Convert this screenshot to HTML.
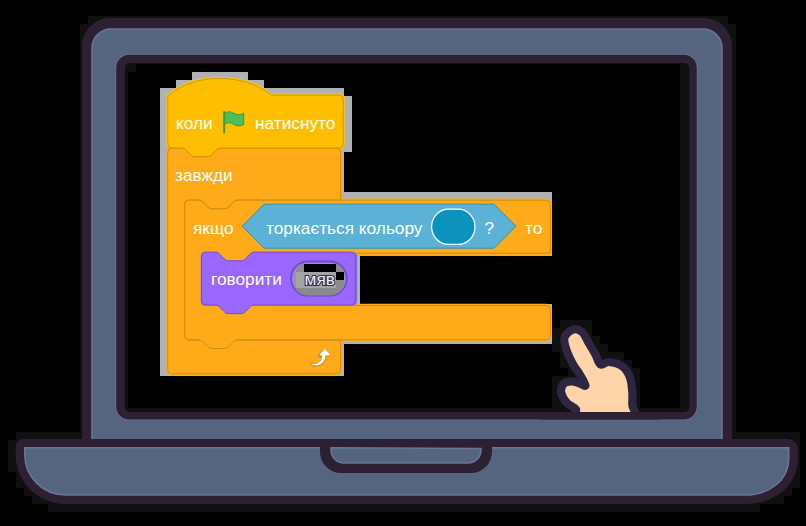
<!DOCTYPE html>
<html><head><meta charset="utf-8"><style>
html,body{margin:0;padding:0;background:#000;width:806px;height:526px;overflow:hidden}
svg{display:block}
text{font-family:"Liberation Sans",sans-serif;font-size:17.25px;fill:#fff}
</style></head><body>
<svg width="806" height="526" viewBox="0 0 806 526">
<rect width="806" height="526" fill="#000"/>
<g fill="#101011"><rect x="88" y="16" width="640" height="8"/><rect x="80" y="24" width="656" height="8"/><rect x="80" y="32" width="656" height="8"/><rect x="80" y="40" width="656" height="8"/><rect x="80" y="48" width="656" height="8"/><rect x="80" y="56" width="656" height="8"/><rect x="80" y="64" width="56" height="8"/><rect x="680" y="64" width="56" height="8"/><rect x="80" y="72" width="48" height="8"/><rect x="680" y="72" width="56" height="8"/><rect x="80" y="80" width="48" height="8"/><rect x="680" y="80" width="56" height="8"/><rect x="80" y="88" width="48" height="8"/><rect x="680" y="88" width="56" height="8"/><rect x="80" y="96" width="48" height="8"/><rect x="680" y="96" width="56" height="8"/><rect x="80" y="104" width="48" height="8"/><rect x="680" y="104" width="56" height="8"/><rect x="80" y="112" width="48" height="8"/><rect x="680" y="112" width="56" height="8"/><rect x="80" y="120" width="48" height="8"/><rect x="680" y="120" width="56" height="8"/><rect x="80" y="128" width="48" height="8"/><rect x="680" y="128" width="56" height="8"/><rect x="80" y="136" width="48" height="8"/><rect x="680" y="136" width="56" height="8"/><rect x="80" y="144" width="48" height="8"/><rect x="680" y="144" width="56" height="8"/><rect x="80" y="152" width="48" height="8"/><rect x="680" y="152" width="56" height="8"/><rect x="80" y="160" width="48" height="8"/><rect x="680" y="160" width="56" height="8"/><rect x="80" y="168" width="48" height="8"/><rect x="680" y="168" width="56" height="8"/><rect x="80" y="176" width="48" height="8"/><rect x="680" y="176" width="56" height="8"/><rect x="80" y="184" width="48" height="8"/><rect x="680" y="184" width="56" height="8"/><rect x="80" y="192" width="48" height="8"/><rect x="680" y="192" width="56" height="8"/><rect x="80" y="200" width="48" height="8"/><rect x="680" y="200" width="56" height="8"/><rect x="80" y="208" width="48" height="8"/><rect x="680" y="208" width="56" height="8"/><rect x="80" y="216" width="48" height="8"/><rect x="680" y="216" width="56" height="8"/><rect x="80" y="224" width="48" height="8"/><rect x="680" y="224" width="56" height="8"/><rect x="80" y="232" width="48" height="8"/><rect x="680" y="232" width="56" height="8"/><rect x="80" y="240" width="48" height="8"/><rect x="680" y="240" width="56" height="8"/><rect x="80" y="248" width="48" height="8"/><rect x="680" y="248" width="56" height="8"/><rect x="80" y="256" width="48" height="8"/><rect x="680" y="256" width="56" height="8"/><rect x="80" y="264" width="48" height="8"/><rect x="680" y="264" width="56" height="8"/><rect x="80" y="272" width="48" height="8"/><rect x="680" y="272" width="56" height="8"/><rect x="80" y="280" width="48" height="8"/><rect x="680" y="280" width="56" height="8"/><rect x="80" y="288" width="48" height="8"/><rect x="680" y="288" width="56" height="8"/><rect x="80" y="296" width="48" height="8"/><rect x="680" y="296" width="56" height="8"/><rect x="80" y="304" width="48" height="8"/><rect x="680" y="304" width="56" height="8"/><rect x="80" y="312" width="48" height="8"/><rect x="680" y="312" width="56" height="8"/><rect x="80" y="320" width="48" height="8"/><rect x="560" y="320" width="32" height="8"/><rect x="680" y="320" width="56" height="8"/><rect x="80" y="328" width="48" height="8"/><rect x="552" y="328" width="40" height="8"/><rect x="680" y="328" width="56" height="8"/><rect x="80" y="336" width="48" height="8"/><rect x="552" y="336" width="48" height="8"/><rect x="680" y="336" width="56" height="8"/><rect x="80" y="344" width="48" height="8"/><rect x="552" y="344" width="56" height="8"/><rect x="680" y="344" width="56" height="8"/><rect x="80" y="352" width="48" height="8"/><rect x="560" y="352" width="64" height="8"/><rect x="680" y="352" width="56" height="8"/><rect x="80" y="360" width="48" height="8"/><rect x="560" y="360" width="72" height="8"/><rect x="680" y="360" width="56" height="8"/><rect x="80" y="368" width="48" height="8"/><rect x="568" y="368" width="72" height="8"/><rect x="680" y="368" width="56" height="8"/><rect x="80" y="376" width="48" height="8"/><rect x="552" y="376" width="88" height="8"/><rect x="680" y="376" width="56" height="8"/><rect x="80" y="384" width="48" height="8"/><rect x="552" y="384" width="88" height="8"/><rect x="680" y="384" width="56" height="8"/><rect x="80" y="392" width="48" height="8"/><rect x="552" y="392" width="88" height="8"/><rect x="680" y="392" width="56" height="8"/><rect x="80" y="400" width="48" height="8"/><rect x="552" y="400" width="88" height="8"/><rect x="680" y="400" width="56" height="8"/><rect x="80" y="408" width="656" height="8"/><rect x="80" y="416" width="656" height="8"/><rect x="80" y="424" width="656" height="8"/><rect x="16" y="432" width="784" height="8"/><rect x="8" y="440" width="792" height="8"/><rect x="8" y="448" width="792" height="8"/><rect x="8" y="456" width="792" height="8"/><rect x="8" y="464" width="792" height="8"/><rect x="16" y="472" width="784" height="8"/><rect x="16" y="480" width="784" height="8"/><rect x="24" y="488" width="768" height="8"/><rect x="32" y="496" width="752" height="8"/><rect x="48" y="504" width="712" height="8"/></g>
<defs><mask id="scr"><rect width="806" height="526" fill="#fff"/><rect x="124.8" y="63" width="564.6" height="349" rx="5" fill="#000"/></mask></defs>
<g mask="url(#scr)">
<!-- laptop lid -->
<path d="M 82,448 V 46 a 28,28 0 0,1 28,-28 H 704 a 28,28 0 0,1 28,28 V 448 Z" fill="#2c2032"/>
<path d="M 92,440 V 48 a 19,19 0 0,1 19,-19 H 703 a 19,19 0 0,1 19,19 V 440 Z" fill="#56657f" stroke="#6a7594" stroke-width="1.6"/>
<rect x="116.2" y="54.8" width="580.6" height="364.7" rx="13" fill="#2c2032" stroke="#6a7594" stroke-width="1.6"/>
<rect x="116.2" y="54.8" width="580.6" height="364.7" rx="13" fill="#2c2032"/>
<!-- base -->
<path d="M 24,439 H 788 a 10,10 0 0,1 10,10 V 458 C 798,485 775,504 745,504 H 66 C 36,504 15.7,480 15.7,455 V 447 a 8,8 0 0,1 8,-8 Z" fill="#2c2032"/>
<path d="M 24.8,447.8 H 788.7 V 458 C 788.7,480 770,495 745,495 H 66 C 42,495 24.8,476 24.8,455 Z" fill="#56657f" stroke="#6a7594" stroke-width="1.6"/>
<path d="M 320,447 V 452 a 21,21 0 0,0 21,21 H 471 a 21,21 0 0,0 21,-21 V 447 Z" fill="#2c2032"/>
<path d="M 331,447.8 V 450 a 13,13 0 0,0 13,13 H 468 a 13,13 0 0,0 13,-13 V 448.5 Z" fill="#56657f" stroke="#6a7594" stroke-width="1.6"/>
</g>
<!-- hand -->
<defs><clipPath id="hc"><rect x="540" y="300" width="120" height="118"/></clipPath></defs>
<path clip-path="url(#hc)" d="M 577.0,420.0 C 567.6,418.2 577.7,412.3 576.0,409.5 C 574.3,406.7 569.5,405.8 567.0,403.0 C 564.5,400.2 561.8,395.7 561.2,392.5 C 560.6,389.3 562.0,385.8 563.5,384.0 C 565.0,382.2 567.7,381.8 570.0,381.5 C 572.3,381.2 574.9,381.8 577.5,382.5 C 580.1,383.2 585.2,386.9 585.5,385.5 C 585.8,384.1 581.5,377.4 579.5,374.0 C 577.5,370.6 575.6,369.0 573.4,365.0 C 571.2,361.0 568.0,354.6 566.5,350.0 C 565.0,345.4 563.4,340.9 564.5,337.5 C 565.6,334.1 570.1,330.4 573.0,329.5 C 575.9,328.6 579.3,329.7 582.0,332.0 C 584.7,334.3 586.8,339.8 589.0,343.5 C 591.2,347.2 593.6,351.0 595.5,354.5 C 597.4,358.0 598.2,363.2 600.5,364.5 C 602.8,365.8 605.3,361.7 609.0,362.0 C 612.7,362.3 619.0,363.9 622.5,366.5 C 626.0,369.1 628.4,373.2 630.0,377.5 C 631.6,381.8 631.9,387.4 632.3,392.0 C 632.7,396.6 632.3,400.3 632.3,405.0 C 632.3,409.7 641.5,417.5 632.3,420.0 C 623.1,422.5 586.4,421.8 577.0,420.0 Z" fill="#fdd3a8" stroke="#2e2540" stroke-width="8.2" stroke-linejoin="round"/>
<rect x="540" y="412" width="120" height="7.5" fill="#2c2032"/>

<!-- blocks halo -->
<g id="halo" fill="#afb2b4"><rect x="192" y="72" width="56" height="8"/><rect x="176" y="80" width="88" height="8"/><rect x="160" y="88" width="184" height="8"/><rect x="160" y="96" width="192" height="8"/><rect x="160" y="104" width="192" height="8"/><rect x="160" y="112" width="192" height="8"/><rect x="160" y="120" width="192" height="8"/><rect x="160" y="128" width="192" height="8"/><rect x="160" y="136" width="192" height="8"/><rect x="160" y="144" width="192" height="8"/><rect x="160" y="152" width="184" height="8"/><rect x="160" y="160" width="184" height="8"/><rect x="160" y="168" width="184" height="8"/><rect x="160" y="176" width="184" height="8"/><rect x="160" y="184" width="184" height="8"/><rect x="160" y="192" width="392" height="8"/><rect x="160" y="200" width="392" height="8"/><rect x="160" y="208" width="392" height="8"/><rect x="160" y="216" width="392" height="8"/><rect x="160" y="224" width="392" height="8"/><rect x="160" y="232" width="392" height="8"/><rect x="160" y="240" width="392" height="8"/><rect x="160" y="248" width="392" height="8"/><rect x="160" y="256" width="200" height="8"/><rect x="160" y="264" width="200" height="8"/><rect x="160" y="272" width="200" height="8"/><rect x="160" y="280" width="200" height="8"/><rect x="160" y="288" width="200" height="8"/><rect x="160" y="296" width="200" height="8"/><rect x="160" y="304" width="392" height="8"/><rect x="160" y="312" width="392" height="8"/><rect x="160" y="320" width="392" height="8"/><rect x="160" y="328" width="392" height="8"/><rect x="160" y="336" width="392" height="8"/><rect x="160" y="344" width="184" height="8"/><rect x="160" y="352" width="184" height="8"/><rect x="160" y="360" width="184" height="8"/><rect x="160" y="368" width="184" height="8"/></g>
<!-- blocks -->
<g stroke-width="3.4" stroke-linejoin="round"><path d="M 167.8,152 a 4,4 0 0,1 4,-4 H 181.8 c 2.16,0 3.24,1.08 4.32,2.16 l 4.32,4.32 c 1.08,1.08 2.16,2.16 4.32,2.16 h 12.96 c 2.16,0 3.24,-1.08 4.32,-2.16 l 4.32,-4.32 c 1.08,-1.08 2.16,-2.16 4.32,-2.16 H 336.7 a 4,4 0 0,1 4,4 V 200 H 237.57999999999998 c -2.16,0 -3.24,1.08 -4.32,2.16 l -4.32,4.32 c -1.08,1.08 -2.16,2.16 -4.32,2.16 h -12.96 c -2.16,0 -3.24,-1.08 -4.32,-2.16 l -4.32,-4.32 c -1.08,-1.08 -2.16,-2.16 -4.32,-2.16 H 188.7 a 4,4 0 0,0 -4,4 V 336 a 4,4 0 0,0 4,4 H 336.7 a 4,4 0 0,1 4,4 V 369.8 a 4,4 0 0,1 -4,4 H 171.8 a 4,4 0 0,1 -4,-4 Z" fill="#FFAB19" stroke="#FFAD1f"/><path d="M 167.8,96.2 c 26.9,-24.2 76.6,-23.0 103.5,-1.2 H 339.3 a 4,4 0 0,1 4,4 V 144 a 4,4 0 0,1 -4,4 H 220.68 c -2.16,0 -3.24,1.08 -4.32,2.16 l -4.32,4.32 c -1.08,1.08 -2.16,2.16 -4.32,2.16 h -12.96 c -2.16,0 -3.24,-1.08 -4.32,-2.16 l -4.32,-4.32 c -1.08,-1.08 -2.16,-2.16 -4.32,-2.16 H 171.8 a 4,4 0 0,1 -4,-4 Z" fill="#FFBF00" stroke="#fcc218"/><path d="M 184.7,204.2 a 4,4 0 0,1 4,-4 H 198.7 c 2.16,0 3.24,1.08 4.32,2.16 l 4.32,4.32 c 1.08,1.08 2.16,2.16 4.32,2.16 h 12.96 c 2.16,0 3.24,-1.08 4.32,-2.16 l 4.32,-4.32 c 1.08,-1.08 2.16,-2.16 4.32,-2.16 H 546.3 a 4,4 0 0,1 4,4 V 251.2 a 2,2 0 0,1 -2,2 H 254.28 c -2.16,0 -3.24,1.08 -4.32,2.16 l -4.32,4.32 c -1.08,1.08 -2.16,2.16 -4.32,2.16 h -12.96 c -2.16,0 -3.24,-1.08 -4.32,-2.16 l -4.32,-4.32 c -1.08,-1.08 -2.16,-2.16 -4.32,-2.16 H 205.4 a 4,4 0 0,0 -4,4 V 301.5 a 4,4 0 0,0 4,4 H 546.3 a 4,4 0 0,1 4,4 V 335.8 a 4,4 0 0,1 -4,4 H 237.57999999999998 c -2.16,0 -3.24,1.08 -4.32,2.16 l -4.32,4.32 c -1.08,1.08 -2.16,2.16 -4.32,2.16 h -12.96 c -2.16,0 -3.24,-1.08 -4.32,-2.16 l -4.32,-4.32 c -1.08,-1.08 -2.16,-2.16 -4.32,-2.16 H 188.7 a 4,4 0 0,1 -4,-4 Z" fill="#FFAB19" stroke="#FFAD1f"/><path d="M 201.4,256.1 a 4,4 0 0,1 4,-4 H 215.4 c 2.16,0 3.24,1.08 4.32,2.16 l 4.32,4.32 c 1.08,1.08 2.16,2.16 4.32,2.16 h 12.96 c 2.16,0 3.24,-1.08 4.32,-2.16 l 4.32,-4.32 c 1.08,-1.08 2.16,-2.16 4.32,-2.16 H 351.6 a 4,4 0 0,1 4,4 V 301 a 4,4 0 0,1 -4,4 H 254.28 c -2.16,0 -3.24,1.08 -4.32,2.16 l -4.32,4.32 c -1.08,1.08 -2.16,2.16 -4.32,2.16 h -12.96 c -2.16,0 -3.24,-1.08 -4.32,-2.16 l -4.32,-4.32 c -1.08,-1.08 -2.16,-2.16 -4.32,-2.16 H 205.4 a 4,4 0 0,1 -4,-4 Z" fill="#9966FF" stroke="#9a6cf8"/></g>
<path d="M 167.8,152 a 4,4 0 0,1 4,-4 H 181.8 c 2.16,0 3.24,1.08 4.32,2.16 l 4.32,4.32 c 1.08,1.08 2.16,2.16 4.32,2.16 h 12.96 c 2.16,0 3.24,-1.08 4.32,-2.16 l 4.32,-4.32 c 1.08,-1.08 2.16,-2.16 4.32,-2.16 H 336.7 a 4,4 0 0,1 4,4 V 200 H 237.57999999999998 c -2.16,0 -3.24,1.08 -4.32,2.16 l -4.32,4.32 c -1.08,1.08 -2.16,2.16 -4.32,2.16 h -12.96 c -2.16,0 -3.24,-1.08 -4.32,-2.16 l -4.32,-4.32 c -1.08,-1.08 -2.16,-2.16 -4.32,-2.16 H 188.7 a 4,4 0 0,0 -4,4 V 336 a 4,4 0 0,0 4,4 H 336.7 a 4,4 0 0,1 4,4 V 369.8 a 4,4 0 0,1 -4,4 H 171.8 a 4,4 0 0,1 -4,-4 Z" fill="#FFAB19" stroke="#CF8B17" stroke-width="1"/>
<path d="M 167.8,96.2 c 26.9,-24.2 76.6,-23.0 103.5,-1.2 H 339.3 a 4,4 0 0,1 4,4 V 144 a 4,4 0 0,1 -4,4 H 220.68 c -2.16,0 -3.24,1.08 -4.32,2.16 l -4.32,4.32 c -1.08,1.08 -2.16,2.16 -4.32,2.16 h -12.96 c -2.16,0 -3.24,-1.08 -4.32,-2.16 l -4.32,-4.32 c -1.08,-1.08 -2.16,-2.16 -4.32,-2.16 H 171.8 a 4,4 0 0,1 -4,-4 Z" fill="#FFBF00" stroke="#CC9900" stroke-width="1"/>
<path d="M 184.7,204.2 a 4,4 0 0,1 4,-4 H 198.7 c 2.16,0 3.24,1.08 4.32,2.16 l 4.32,4.32 c 1.08,1.08 2.16,2.16 4.32,2.16 h 12.96 c 2.16,0 3.24,-1.08 4.32,-2.16 l 4.32,-4.32 c 1.08,-1.08 2.16,-2.16 4.32,-2.16 H 546.3 a 4,4 0 0,1 4,4 V 251.2 a 2,2 0 0,1 -2,2 H 254.28 c -2.16,0 -3.24,1.08 -4.32,2.16 l -4.32,4.32 c -1.08,1.08 -2.16,2.16 -4.32,2.16 h -12.96 c -2.16,0 -3.24,-1.08 -4.32,-2.16 l -4.32,-4.32 c -1.08,-1.08 -2.16,-2.16 -4.32,-2.16 H 205.4 a 4,4 0 0,0 -4,4 V 301.5 a 4,4 0 0,0 4,4 H 546.3 a 4,4 0 0,1 4,4 V 335.8 a 4,4 0 0,1 -4,4 H 237.57999999999998 c -2.16,0 -3.24,1.08 -4.32,2.16 l -4.32,4.32 c -1.08,1.08 -2.16,2.16 -4.32,2.16 h -12.96 c -2.16,0 -3.24,-1.08 -4.32,-2.16 l -4.32,-4.32 c -1.08,-1.08 -2.16,-2.16 -4.32,-2.16 H 188.7 a 4,4 0 0,1 -4,-4 Z" fill="#FFAB19" stroke="#CF8B17" stroke-width="1"/>
<path d="M 201.4,256.1 a 4,4 0 0,1 4,-4 H 215.4 c 2.16,0 3.24,1.08 4.32,2.16 l 4.32,4.32 c 1.08,1.08 2.16,2.16 4.32,2.16 h 12.96 c 2.16,0 3.24,-1.08 4.32,-2.16 l 4.32,-4.32 c 1.08,-1.08 2.16,-2.16 4.32,-2.16 H 351.6 a 4,4 0 0,1 4,4 V 301 a 4,4 0 0,1 -4,4 H 254.28 c -2.16,0 -3.24,1.08 -4.32,2.16 l -4.32,4.32 c -1.08,1.08 -2.16,2.16 -4.32,2.16 h -12.96 c -2.16,0 -3.24,-1.08 -4.32,-2.16 l -4.32,-4.32 c -1.08,-1.08 -2.16,-2.16 -4.32,-2.16 H 205.4 a 4,4 0 0,1 -4,-4 Z" fill="#9966FF" stroke="#774DCB" stroke-width="1"/>
<path d="M 242.2,226.2 L 264,204.2 H 494 L 516,226.2 L 494,248.2 H 264 Z" fill="#5CB1D6" stroke="#2E8EB8" stroke-width="1"/>
<rect x="431.6" y="209.2" width="43.4" height="35.2" rx="17" ry="17.6" fill="#0b92bd" stroke="#fff" stroke-width="1.2"/>
<defs><clipPath id="ov"><rect x="291.5" y="262" width="54.7" height="33.4" rx="16.7"/></clipPath></defs>
<rect x="291" y="261.5" width="55.7" height="34.2" rx="17.1" fill="#9c8cc0" stroke="#7048d8" stroke-width="1.8"/>
<g clip-path="url(#ov)">
<rect x="296" y="264" width="8" height="8" fill="#8c8c8c"/><rect x="304" y="264" width="32" height="8" fill="#000"/><rect x="336" y="264" width="8" height="8" fill="#8a8a8a"/>
<rect x="296" y="272" width="40" height="16" fill="#a4a4a4"/><rect x="336" y="272" width="8" height="8" fill="#000"/><rect x="336" y="280" width="8" height="8" fill="#8c8c8c"/>
<rect x="296" y="288" width="48" height="8" fill="#8a8a8a"/>
</g>
<text x="176" y="128.8">коли</text>
<text x="255" y="128.8">натиснуто</text>
<text x="175" y="180.9">завжди</text>
<text x="193" y="234">якщо</text>
<text x="266" y="233.7">торкається кольору</text>
<text x="484.5" y="234">?</text>
<text x="525" y="234">то</text>
<text x="211" y="285">говорити</text>
<text x="304.6" y="284.6" style="fill:#ececf4;stroke:#2e2e4a;stroke-width:2.2;paint-order:stroke">мяв</text>
<!-- flag -->
<g transform="translate(223.3,111.2) scale(1.26,1.06)">
<path d="M.75,2A6.44,6.44,0,0,1,8.44,2h0a6.44,6.44,0,0,0,7.69,0V12.4a6.44,6.44,0,0,1-7.69,0h0a6.44,6.44,0,0,0-7.69,0" fill="#4cbf56" stroke="#45993d" stroke-width="0.9" stroke-linecap="round" stroke-linejoin="round"/>
</g>
<line x1="224.2" y1="112" x2="224.2" y2="132.6" stroke="#45993d" stroke-width="2" stroke-linecap="round"/>
<!-- repeat arrow -->
<g transform="translate(304,343) scale(1.12,1.14)">
<path d="M23.3,11c-0.3,0.6-0.9,1-1.5,1h-1.6c-0.1,1.3-0.5,2.5-1.1,3.6c-0.9,1.7-2.3,3.2-4.1,4.1c-1.7,0.9-3.6,1.2-5.5,0.9c-1-0.2-2-0.5-2.9-1l-0.5-0.3C5.8,19,5.6,18.7,5.6,18.4c0-0.2,0.1-0.4,0.2-0.6c0.2-0.3,0.6-0.5,1-0.4l0.4,0.1c0.7,0.2,1.4,0.3,2.1,0.3c2.3,0,4.6-1.2,5.7-3.3c0.3-0.6,0.6-1.3,0.7-2h-1.5c-0.9,0-1.7-0.7-1.7-1.6c0-0.4,0.2-0.8,0.4-1.1l3.9-4.2c0.6-0.7,1.7-0.7,2.4-0.1c0,0,0.1,0.1,0.1,0.1l3.9,4.2C23.6,9.6,23.7,10.3,23.3,11z" fill="#cf8b17"/>
<path d="M21.8,11h-2.6c0,1.5-0.3,2.9-1,4.2c-0.8,1.6-2.1,2.8-3.7,3.6c-1.5,0.8-3.3,1.1-4.9,0.8c-1-0.2-2-0.5-2.9-1l-0.3-0.2l0.3-0.2c0,0,0,0,0,0l0.3-0.1c0.7,0.2,1.5,0.3,2.3,0.3C12,18.4,15.2,16.6,16,13c0.1-0.6,0.2-1.2,0.2-2h-1.6c-0.4,0-0.7-0.4-0.7-0.7c0-0.2,0.1-0.4,0.2-0.5l3.9-4.2c0.3-0.3,0.7-0.3,1-0.1c0,0,0,0,0.1,0.1l3.9,4.2c0.3,0.3,0.3,0.7,0,1C22.2,10.9,22,11,21.8,11z" fill="#fff"/>
</g>
</svg>
</body></html>
